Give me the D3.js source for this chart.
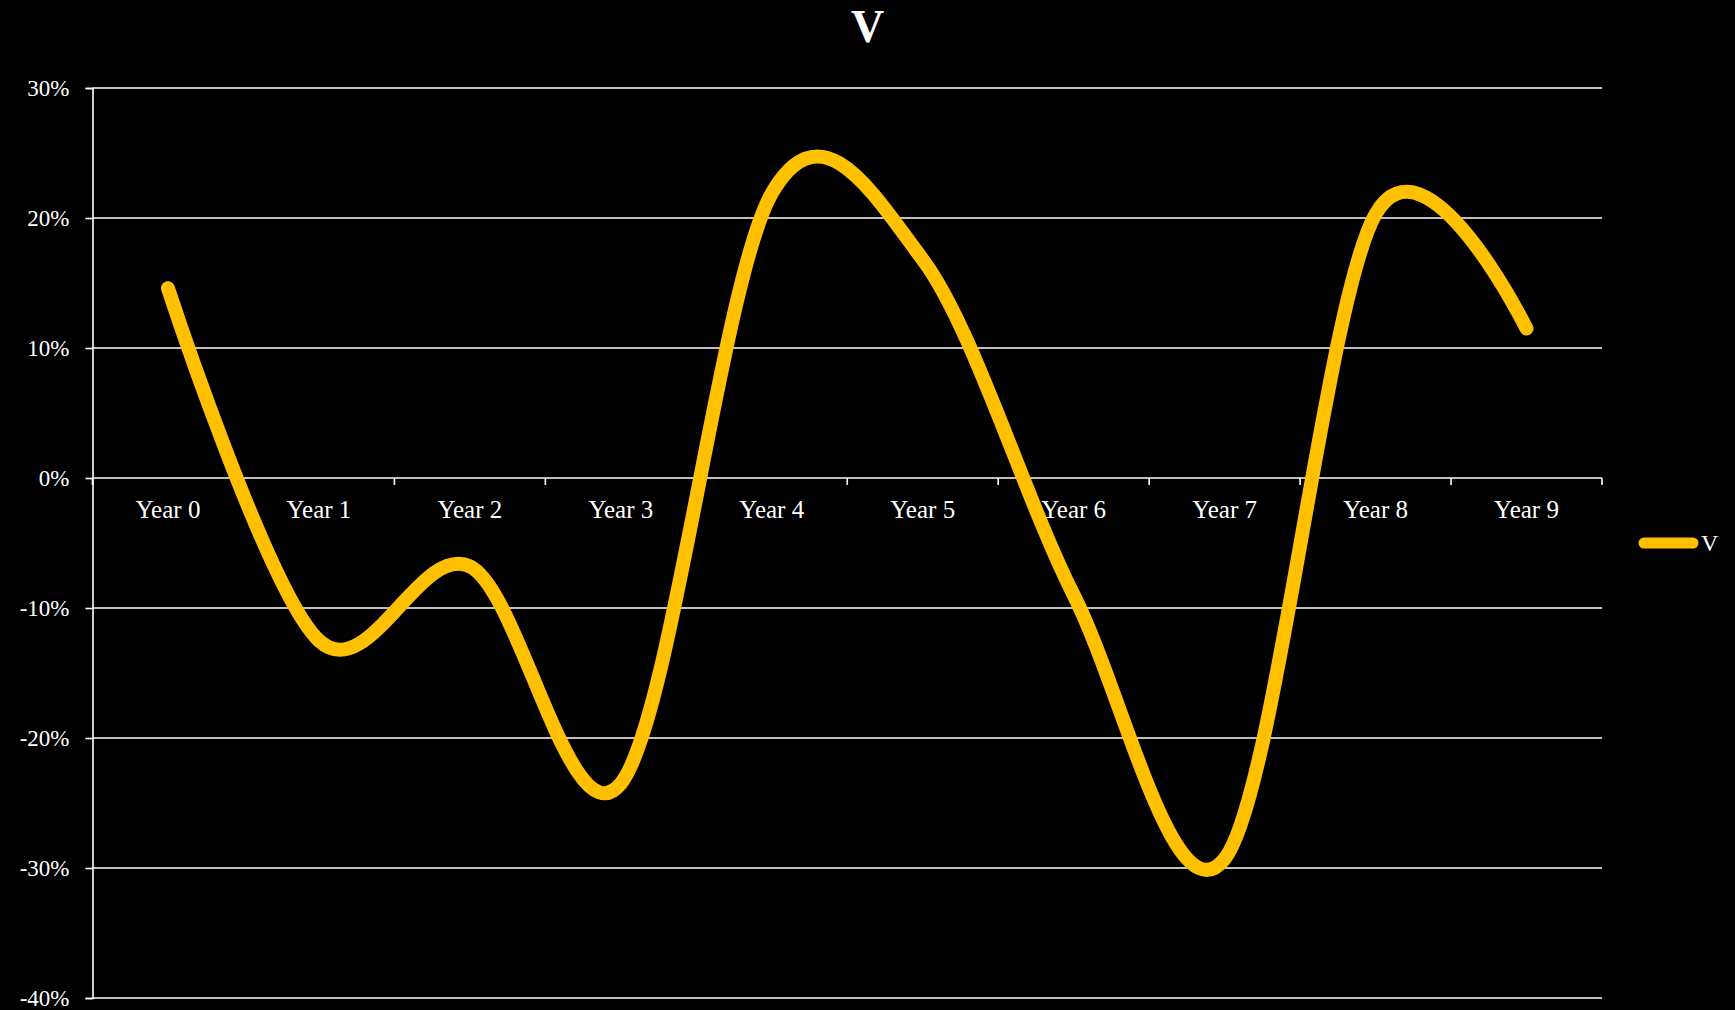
<!DOCTYPE html>
<html>
<head>
<meta charset="utf-8">
<script src="https://cdn.jsdelivr.net/npm/d3@7"></script>
<style>
  html, body { margin: 0; padding: 0; background: #000; }
  svg { display: block; }
  text { font-family: "Liberation Serif", "Times New Roman", serif; fill: #fff; }
</style>
</head>
<body>
<svg id="chart" width="1735" height="1010"></svg>
<script>
const title = "V";
const seriesName = "V";
const categories = ["Year 0","Year 1","Year 2","Year 3","Year 4","Year 5","Year 6","Year 7","Year 8","Year 9"];
const values = [0.146, -0.125, -0.068, -0.235, 0.219, 0.168, -0.090, -0.293, 0.203, 0.115];
const yTicks = [-0.4, -0.3, -0.2, -0.1, 0, 0.1, 0.2, 0.3];

(function () {
const W = 1735, H = 1010;
const plotLeft = 92.5, plotRight = 1602, plotTop = 88, plotBottom = 998;
const svg = d3.select("#chart");
svg.append("rect").attr("width", W).attr("height", H).attr("fill", "#000");

const x = d3.scaleBand().domain(categories).range([plotLeft, plotRight]).padding(0);
const y = d3.scaleLinear().domain([-0.4, 0.3]).range([plotBottom, plotTop]);

// gridlines
svg.append("g").selectAll("line").data(yTicks).join("line")
  .attr("x1", plotLeft).attr("x2", plotRight)
  .attr("y1", d => y(d)).attr("y2", d => y(d))
  .attr("stroke", "#fff").attr("stroke-width", 1.6);

// y axis
const pct = d => Math.round(d * 100) + "%";
const yAxis = svg.append("g").attr("transform", `translate(${plotLeft},0)`)
  .call(d3.axisLeft(y).tickValues(yTicks).tickFormat(pct).tickSize(7).tickPadding(16));
yAxis.select(".domain").attr("stroke", "#fff").attr("stroke-width", 1.6);
yAxis.selectAll(".tick line").attr("stroke", "#fff").attr("stroke-width", 1.6);
yAxis.selectAll(".tick text").attr("fill", "#fff").style("font-size", "23px")
  .style("font-family", "Liberation Serif, serif");

// x axis at zero
const xAxis = svg.append("g").attr("transform", `translate(0,${y(0)})`)
  .call(d3.axisBottom(x).tickSize(0).tickPadding(22));
xAxis.select(".domain").remove();
xAxis.selectAll(".tick text").attr("fill", "#fff").style("font-size", "25px")
  .style("font-family", "Liberation Serif, serif");
// category boundary tick marks
const bounds = categories.map(c => x(c)).concat([plotRight]);
svg.append("g").selectAll("line").data(bounds).join("line")
  .attr("x1", d => d).attr("x2", d => d)
  .attr("y1", y(0)).attr("y2", y(0) + 7)
  .attr("stroke", "#fff").attr("stroke-width", 1.6);

// line
const line = d3.line()
  .x((d, i) => x(categories[i]) + x.bandwidth() / 2)
  .y(d => y(d))
  .curve(d3.curveCatmullRom.alpha(0));
svg.append("path").datum(values)
  .attr("d", line)
  .attr("fill", "none")
  .attr("stroke", "#FFC000")
  .attr("stroke-width", 14)
  .attr("stroke-linecap", "round")
  .attr("stroke-linejoin", "round");

// title
svg.append("text").attr("x", W / 2).attr("y", 42)
  .attr("text-anchor", "middle")
  .style("font-size", "46px").style("font-weight", "bold")
  .text(title);

// legend
svg.append("line").attr("x1", 1644).attr("x2", 1693).attr("y1", 543).attr("y2", 543)
  .attr("stroke", "#FFC000").attr("stroke-width", 11).attr("stroke-linecap", "round");
svg.append("text").attr("x", 1701).attr("y", 551)
  .style("font-size", "24px").text(seriesName);
})();
</script>
</body>
</html>
